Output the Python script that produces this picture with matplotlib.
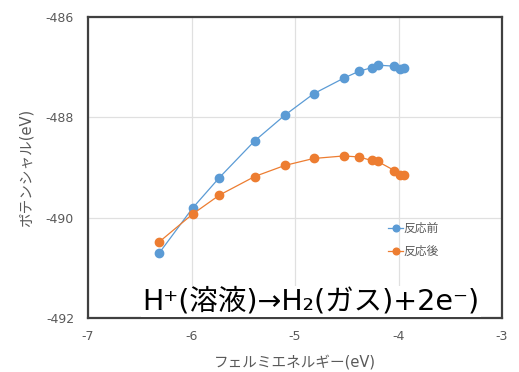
import matplotlib
matplotlib.use("Agg")
import matplotlib.pyplot as plt

plt.rcParams['font.family'] = ['DejaVu Sans', 'Noto Sans CJK JP']
plt.rcParams['axes.unicode_minus'] = False

# Fermi energy (eV) and potential (eV) before / after reaction
fermi_before = [-6.31, -5.99, -5.73, -5.39, -5.10, -4.82, -4.53, -4.38,
                -4.26, -4.20, -4.04, -3.99, -3.95]
pot_before = [-490.70, -489.81, -489.20, -488.47, -487.96, -487.53, -487.22,
              -487.08, -487.01, -486.96, -486.98, -487.04, -487.01]

fermi_after = [-6.31, -5.99, -5.73, -5.39, -5.10, -4.82, -4.53, -4.38,
               -4.26, -4.20, -4.04, -3.99, -3.95]
pot_after = [-490.48, -489.93, -489.55, -489.18, -488.96, -488.82, -488.77,
             -488.79, -488.86, -488.88, -489.06, -489.15, -489.15]

series_labels = ['反応前', '反応後']
x_ticks = [-7, -6, -5, -4, -3]
y_ticks = [-492, -490, -488, -486]

blue = '#5b9bd5'
orange = '#ed7d31'
tick_gray = '#595959'

fig = plt.figure(figsize=(5.19, 3.72), dpi=100)
ax = fig.add_axes([88 / 519, 1 - 318 / 372, (502 - 88) / 519, (318 - 17) / 372])

ax.plot(fermi_before, pot_before, color=blue, lw=0.9, marker='o', ms=6,
        mec=blue, mfc=blue, label=series_labels[0], zorder=3)
ax.plot(fermi_after, pot_after, color=orange, lw=0.9, marker='o', ms=6,
        mec=orange, mfc=orange, label=series_labels[1], zorder=3)

ax.set_xlim(-7, -3)
ax.set_ylim(-492, -486)
ax.set_xticks(x_ticks)
ax.set_yticks(y_ticks)
ax.set_xticklabels([str(v) for v in x_ticks])
ax.set_yticklabels([str(v) for v in y_ticks])
ax.grid(True, color='#e0e0e0', lw=0.9)
ax.set_axisbelow(True)
ax.tick_params(length=0, labelsize=9, labelcolor=tick_gray)
ax.tick_params(axis='y', pad=10)
ax.tick_params(axis='x', pad=9)

for sp in ax.spines.values():
    sp.set_color('#404040')
    sp.set_linewidth(1.6)

ax.set_xlabel('フェルミエネルギー(eV)', fontsize=10.5, color=tick_gray, labelpad=8)
ax.set_ylabel('ポテンシャル(eV)', fontsize=10.5, color=tick_gray, labelpad=9)

leg = ax.legend(loc='upper left', bbox_to_anchor=(0.70, 0.355), frameon=False,
                fontsize=8.5, handlelength=1.2, handletextpad=0.1,
                labelspacing=0.85, markerscale=0.8)
for t in leg.get_texts():
    t.set_color(tick_gray)

ax.text(0.131, 0.027, 'H⁺(溶液)→H₂(ガス)+2e⁻)', transform=ax.transAxes,
        fontsize=20.5, color='black', ha='left', va='baseline',
        bbox=dict(facecolor='white', edgecolor='none', pad=1), zorder=5)

fig.savefig('out.png', dpi=100)
